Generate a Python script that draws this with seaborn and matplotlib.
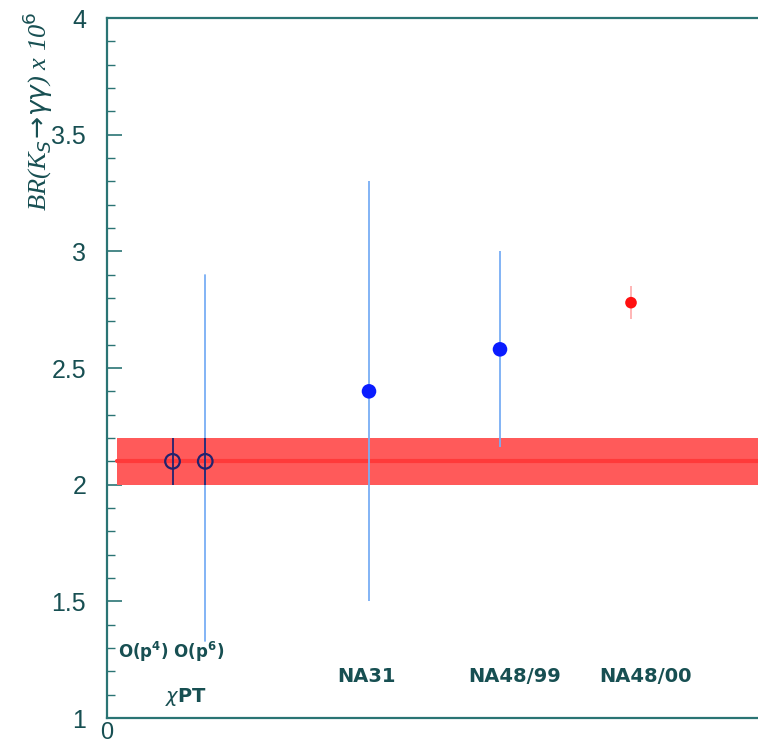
import matplotlib
matplotlib.use("Agg")
import matplotlib.pyplot as plt
from matplotlib.ticker import MultipleLocator, FixedLocator, FixedFormatter
import numpy as np
import pandas as pd
import seaborn as sns

# Branching ratio of K_S -> gamma gamma (x 10^6): theory and experiments
theory_names = ["O(p4)", "O(p6)"]
theory_x = [0.5, 0.75]
theory_br = [2.1, 2.1]
theory_err = [0.1, 0.1]
p6_range_lo = 1.33
p6_range_hi = 2.9

exp_names = ["NA31", "NA48/99", "NA48/00"]
exp_x = [2.0, 3.0, 4.0]
exp_br = [2.4, 2.58, 2.78]
exp_err = [0.9, 0.42, 0.07]

band_lo, band_mid, band_hi = 2.0, 2.1, 2.2

y_ticks = [1.0, 1.5, 2.0, 2.5, 3.0, 3.5, 4.0]
y_tick_labels = ["1", "1.5", "2", "2.5", "3", "3.5", "4"]

sns.set_style("ticks")
plt.rcParams["font.family"] = ["Liberation Sans", "DejaVu Sans"]

ink = "#174f52"
frame = "#2a7474"
light_blue = "#78aef5"
navy = "#22226e"

fig = plt.figure(figsize=(7.58, 7.49), dpi=100)
ax = fig.add_axes([107 / 758, 31 / 749, 655 / 758, 700 / 749])

# theory band
ax.fill_between([0.08, 5.0], band_lo, band_hi, color="#ff5a5a", lw=0, zorder=1)
ax.plot([0.08, 5.0], [band_mid, band_mid], color="#ff3a3a", lw=3, zorder=1.1)

# O(p6) full range
ax.plot([theory_x[1], theory_x[1]], [p6_range_lo, p6_range_hi],
        color=light_blue, lw=1.3, zorder=2)

theory = pd.DataFrame({"name": theory_names, "x": theory_x,
                       "br": theory_br, "err": theory_err})
exps = pd.DataFrame({"name": exp_names, "x": exp_x,
                     "br": exp_br, "err": exp_err})

ax.errorbar(theory["x"], theory["br"], yerr=theory["err"], fmt="none",
            ecolor=navy, elinewidth=1.3, capsize=0, zorder=3)
sns.scatterplot(data=theory, x="x", y="br", ax=ax, marker="o", s=110,
                facecolor="none", edgecolor=navy, linewidth=1.6, zorder=4,
                legend=False)

blue = exps.iloc[:2]
red = exps.iloc[2:]
ax.errorbar(blue["x"], blue["br"], yerr=blue["err"], fmt="none",
            ecolor=light_blue, elinewidth=1.3, capsize=0, zorder=3)
sns.scatterplot(data=blue, x="x", y="br", ax=ax, color="#0a1cff", s=110,
                edgecolor="none", zorder=4, legend=False)
ax.errorbar(red["x"], red["br"], yerr=red["err"], fmt="none",
            ecolor="#ffb0b0", elinewidth=1.3, capsize=0, zorder=3)
sns.scatterplot(data=red, x="x", y="br", ax=ax, color="#ff1010", s=70,
                edgecolor="none", zorder=4, legend=False)

ax.set_xlim(0, 5)
ax.set_ylim(1, 4)

# category labels
lab_kw = dict(fontsize=14, fontweight="bold", color=ink, ha="center",
              va="center", family=["DejaVu Sans"])
ax.text(0.49, 1.285, "O(p$^{\\mathbf{4}}$) O(p$^{\\mathbf{6}}$)",
        **{**lab_kw, "fontsize": 12})
ax.text(0.6, 1.09, "$\\chi$PT", **lab_kw)
for nm, xv in zip(exp_names, [1.98, 3.11, 4.11]):
    ax.text(xv, 1.18, nm, **lab_kw)

# axes styling
ax.yaxis.set_major_locator(FixedLocator(y_ticks))
ax.yaxis.set_major_formatter(FixedFormatter(y_tick_labels))
ax.yaxis.set_minor_locator(MultipleLocator(0.1))
ax.xaxis.set_major_locator(FixedLocator([0]))
ax.xaxis.set_major_formatter(FixedFormatter(["0"]))
ax.tick_params(axis="y", which="major", direction="in", length=11, width=1.2,
               color=frame, labelsize=18, labelcolor=ink, pad=15)
ax.tick_params(axis="y", which="minor", direction="in", length=6, width=1.0,
               color=frame)
ax.tick_params(axis="x", which="major", length=0, labelsize=17,
               labelcolor=ink, pad=3)
for side in ["left", "bottom", "top", "right"]:
    ax.spines[side].set_color(frame)
    ax.spines[side].set_linewidth(1.6)
    ax.spines[side].set_visible(True)

ax.set_xlabel("")
ax.set_ylabel("")
fig.text(0.05, 0.985, "BR(K$_S$$\\!\\rightarrow\\!\\gamma\\gamma$) x 10$^6$",
         rotation=90, ha="center", va="top", fontsize=19, color=ink,
         style="italic", family=["Liberation Serif"])

fig.savefig("out.png", dpi=100, facecolor="white")
